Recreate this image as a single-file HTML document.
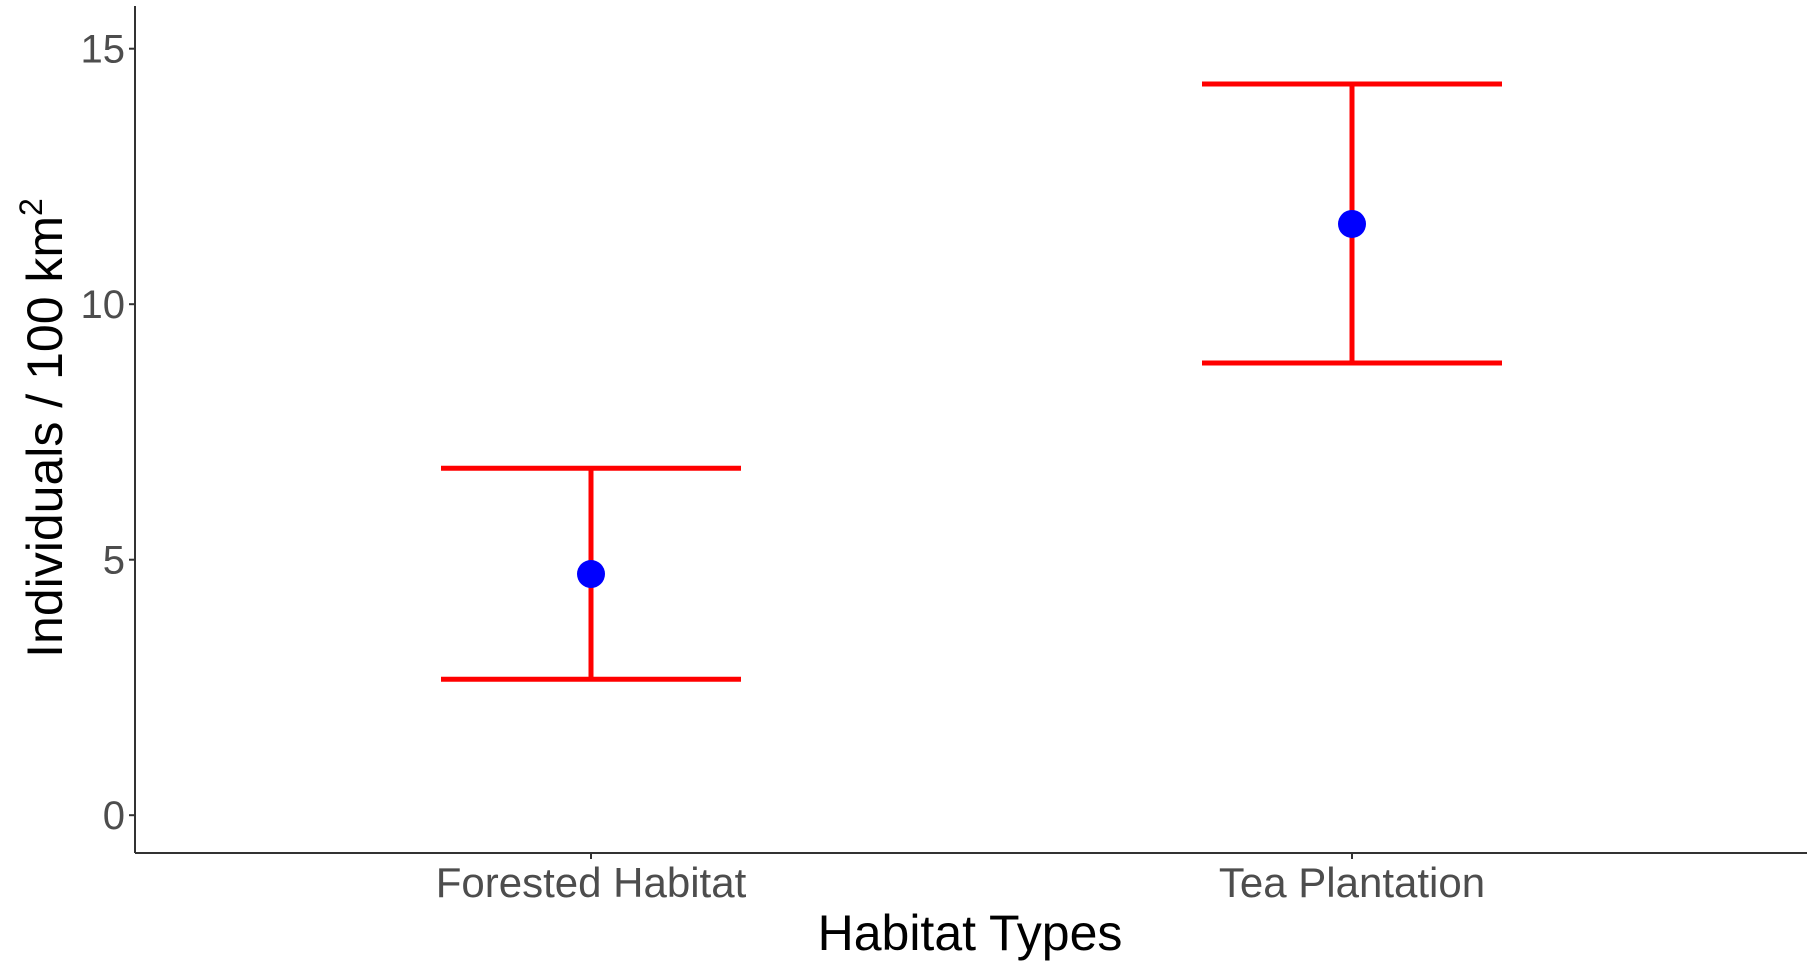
<!DOCTYPE html>
<html><head><meta charset="utf-8"><style>
html,body{margin:0;padding:0;background:#fff;}
svg{display:block;font-family:"Liberation Sans",Arial,sans-serif;}
</style></head><body>
<svg id="chart" width="1813" height="969" viewBox="0 0 1813 969">
  <g id="axes"></g>
  <g id="marks"></g>
  <text x="970" y="950" text-anchor="middle" font-size="50" fill="#000">Habitat Types</text>
  <text transform="translate(62,428) rotate(-90)" text-anchor="middle" font-size="50" fill="#000">Individuals / 100 km<tspan dy="-20" font-size="32">2</tspan></text>
</svg>
<script>
const categories = ["Forested Habitat", "Tea Plantation"];
const means = [4.72, 11.57];
const lowers = [2.66, 8.85];
const uppers = [6.79, 14.31];
const yTicks = [0, 5, 10, 15];

const NS = "http://www.w3.org/2000/svg";
const plotL = 135, plotR = 1807, plotT = 6, plotB = 853;
function yScale(v){ return 815.2 - v * 51.1; }
function xScale(i){ return 591 + i * 761; }
function mk(tag, attrs, parent){
  const e = document.createElementNS(NS, tag);
  for (const k in attrs) e.setAttribute(k, attrs[k]);
  parent.appendChild(e);
  return e;
}
const axes = document.getElementById("axes");
const marks = document.getElementById("marks");

const yAxis = mk("line", {x1:plotL, y1:plotT, x2:plotL, y2:plotB, stroke:"#333", "stroke-width":2}, axes);


const xAxis = mk("line", {x1:plotL, y1:plotB, x2:plotR, y2:plotB, stroke:"#333", "stroke-width":2}, axes);



yTicks.forEach(v => {
  const y = yScale(v);
  const t = mk("line", {x1:plotL-6, y1:y, x2:plotL, y2:y, stroke:"#333", "stroke-width":2}, axes);
  
  
  const l = mk("text", {x:plotL-10, y:y+14, "text-anchor":"end", "font-size":40, fill:"#4d4d4d"}, axes);
  l.textContent = v;
  
  
});

categories.forEach((c, i) => {
  const x = xScale(i);
  const t = mk("line", {x1:x, y1:plotB, x2:x, y2:plotB+6, stroke:"#333", "stroke-width":2}, axes);
  
  
  const l = mk("text", {x:x, y:897, "text-anchor":"middle", "font-size":42, fill:"#4d4d4d"}, axes);
  l.textContent = c;
  
  

  const g = mk("g", {}, marks);
  
  
  const half = 150;
  const v = mk("line", {x1:x, y1:yScale(uppers[i]), x2:x, y2:yScale(lowers[i]), stroke:"#ff0000", "stroke-width":5}, g);
  
  
  const cu = mk("line", {x1:x-half, y1:yScale(uppers[i]), x2:x+half, y2:yScale(uppers[i]), stroke:"#ff0000", "stroke-width":5}, g);
  
  
  const cl = mk("line", {x1:x-half, y1:yScale(lowers[i]), x2:x+half, y2:yScale(lowers[i]), stroke:"#ff0000", "stroke-width":5}, g);
  
  
  const p = mk("circle", {cx:x, cy:yScale(means[i]), r:14, fill:"#0000ff"}, g);
  
  
});
</script>
</body></html>
